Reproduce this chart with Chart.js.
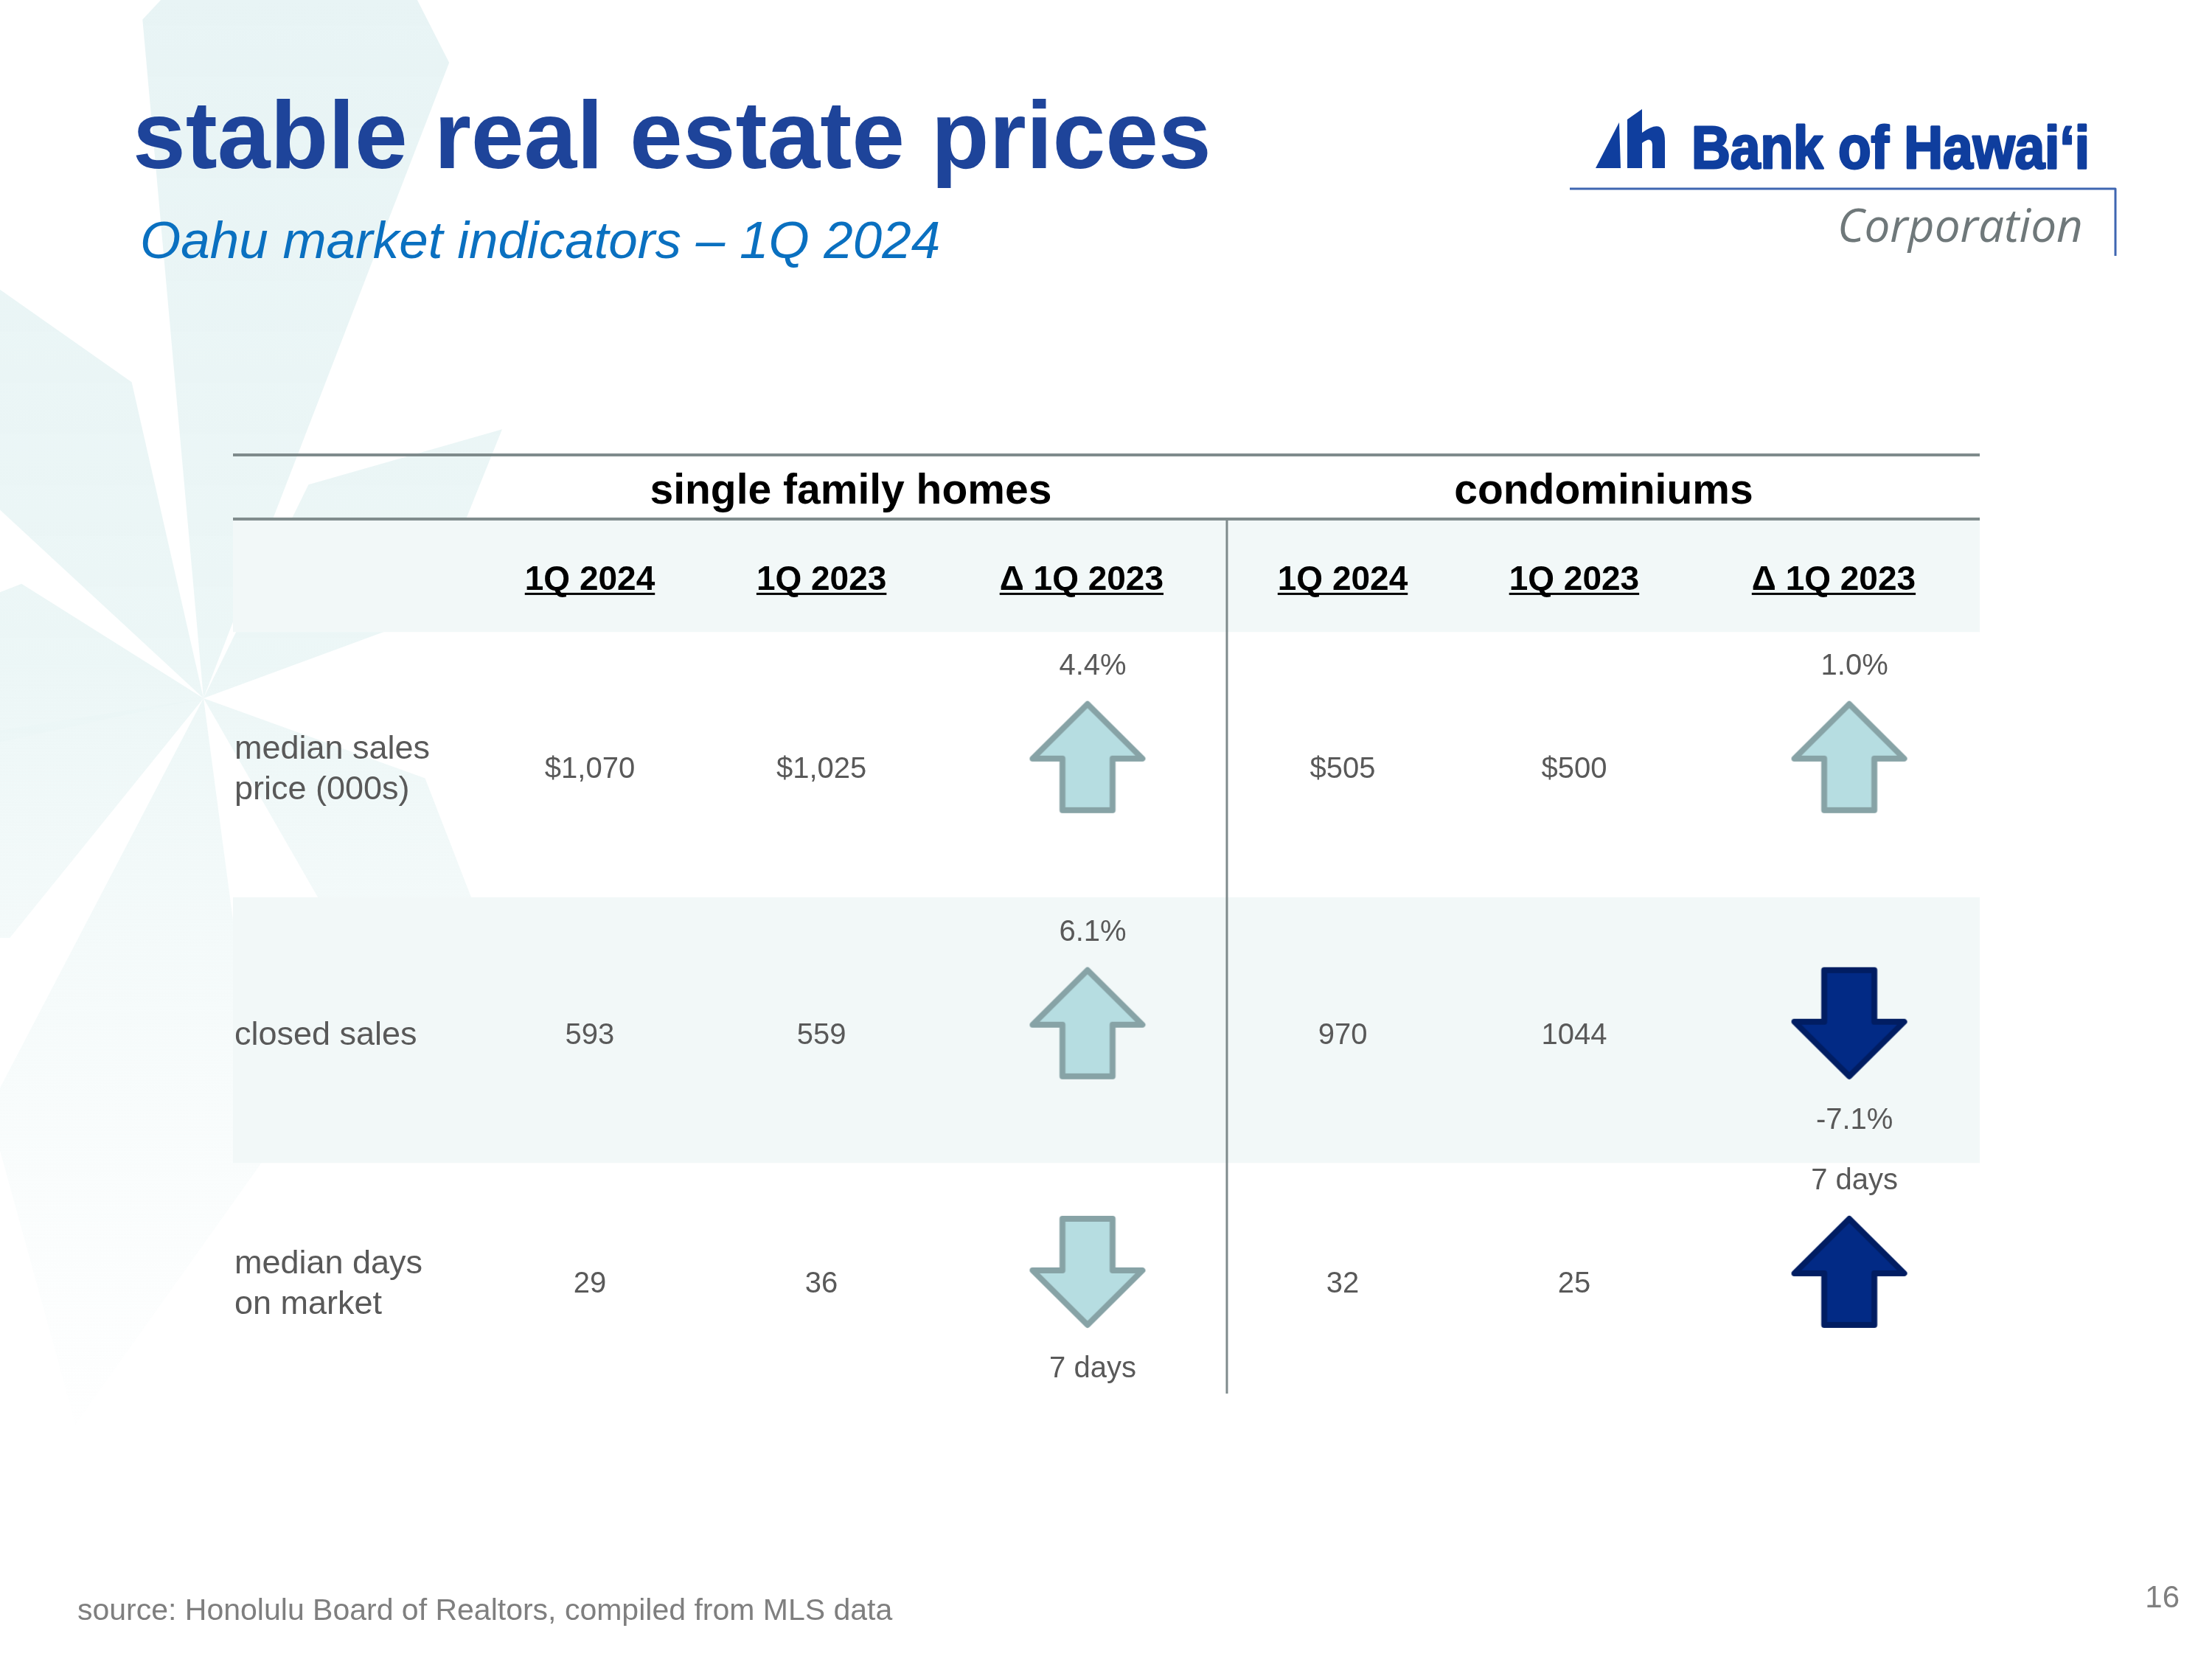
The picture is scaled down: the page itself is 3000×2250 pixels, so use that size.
<!DOCTYPE html>
<html lang="en">
  <head>
    <meta charset="utf-8" />
    <style>
      html, body { margin: 0; padding: 0; background: #ffffff; }
      .slide { width: 3000px; height: 2250px; position: relative; }
    </style>
  </head>
  <body>
    <div class="slide">
      <canvas id="myChart" width="3000" height="2250"></canvas>
    </div>

    <script src="https://cdn.jsdelivr.net/npm/chart.js@4.4.1/dist/chart.umd.min.js"></script>
    <script>
      // slide texts
      const titleText = "stable real estate prices";
      const subtitleText = "Oahu market indicators \u2013 1Q 2024";
      const sourceText = "source: Honolulu Board of Realtors, compiled from MLS data";
      const pageNumber = "16";

      // table data
      const segments = ["single family homes", "condominiums"];
      const periods = ["1Q 2024", "1Q 2023", "\u0394 1Q 2023"];
      const rowLabels = [["median sales", "price (000s)"], ["closed sales"], ["median days", "on market"]];
      const changeUnits = ["%", "%", "days"];
      const lowerIsBetter = [false, false, true];

      const sfh2024 = [1070, 593, 29];
      const sfh2023 = [1025, 559, 36];
      const sfhChange = [4.4, 6.1, -7];
      const condo2024 = [505, 970, 32];
      const condo2023 = [500, 1044, 25];
      const condoChange = [1.0, -7.1, 7];

      // layout (table units: x 0..100 across the table, y in row heights)
      const headerX = [20.43, 33.69, 48.58, 63.53, 76.78, 91.64];
      const valueX = [20.43, 33.69, 63.53, 76.78];
      const arrowX = [48.92, 92.53];
      const groupX = [35.37, 78.47];
      const rowY = [0, 1.034, 2.0];
      const dividerX = 56.9;
      const labelX = 0.08;
      const yTop = -1.209, yGroupRule = -0.96, yHeaderBottom = -0.521;
      const yBand2 = [0.51, 1.542], yDividerEnd = 2.438;
      const yGroupText = -1.065, yHeaderBase = -0.685;
      const arrowOffset = -0.035, upLabel = -0.40, downLabel = 0.33;
      const lineGap = 0.158, textNudge = 0.014;

      const textGray = "#595959";
      const font = '"Liberation Sans", Arial, sans-serif';

      function fmtValue(row, v) {
        return row === 0 ? "$" + v.toLocaleString("en-US") : String(v);
      }
      function fmtChange(row, v) {
        if (changeUnits[row] === "%") return v.toFixed(1) + "%";
        return Math.abs(v) + " days";
      }

      function makeArrow(up, good) {
        const c = document.createElement("canvas");
        c.width = 165;
        c.height = 160;
        const g = c.getContext("2d");
        const cx = 82.5;
        const pts = [
          [cx, 8], [cx + 74.5, 82], [cx + 34, 82], [cx + 34, 152],
          [cx - 34, 152], [cx - 34, 82], [cx - 74.5, 82],
        ];
        g.beginPath();
        pts.forEach((p, i) => {
          const y = up ? p[1] : 160 - p[1];
          if (i === 0) g.moveTo(p[0], y);
          else g.lineTo(p[0], y);
        });
        g.closePath();
        g.fillStyle = good ? "#b6dde1" : "#022a85";
        g.fill();
        g.lineJoin = "round";
        g.lineWidth = 8;
        g.strokeStyle = good ? "#87a3a6" : "#011d62";
        g.stroke();
        return c;
      }

      const changes = [sfhChange, condoChange];
      const arrowPoints = [];
      const arrowStyles = [];
      changes.forEach((series, s) => {
        series.forEach((v, r) => {
          const good = lowerIsBetter[r] ? v < 0 : v > 0;
          arrowPoints.push({ x: arrowX[s], y: rowY[r] + arrowOffset });
          arrowStyles.push(makeArrow(v > 0, good));
        });
      });

      function kite(ctx, cx, cy, ang, len, halfW, at) {
        const a = (ang * Math.PI) / 180;
        const ux = Math.cos(a), uy = Math.sin(a);
        const nx = -uy, ny = ux;
        const mx = cx + ux * len * at, my = cy + uy * len * at;
        ctx.beginPath();
        ctx.moveTo(cx, cy);
        ctx.lineTo(mx + nx * halfW, my + ny * halfW);
        ctx.lineTo(cx + ux * len, cy + uy * len);
        ctx.lineTo(mx - nx * halfW, my - ny * halfW);
        ctx.closePath();
        ctx.fill();
      }

      const slidePlugin = {
        id: "slide",
        beforeDraw(chart) {
          const ctx = chart.ctx;
          const xs = chart.scales.x, ys = chart.scales.y;
          ctx.save();
          // faint star in background
          const grad = ctx.createLinearGradient(0, 0, 0, 2000);
          grad.addColorStop(0, "rgba(232,244,245,1)");
          grad.addColorStop(0.45, "rgba(235,246,246,0.95)");
          grad.addColorStop(1, "rgba(242,249,249,0)");
          ctx.fillStyle = grad;
          kite(ctx, 276, 947, -82, 1200, 210, 0.75);
          kite(ctx, 276, 947, -42, 545, 120, 0.55);
          kite(ctx, 276, 947, -120, 700, 130, 0.6);
          kite(ctx, 276, 947, 190, 450, 110, 0.6);
          kite(ctx, 276, 947, 150, 650, 150, 0.6);
          kite(ctx, 276, 947, 100, 1000, 190, 0.6);
          kite(ctx, 276, 947, 40, 500, 110, 0.6);

          // title and subtitle
          ctx.textBaseline = "alphabetic";
          ctx.textAlign = "left";
          ctx.fillStyle = "#1e449a";
          ctx.font = "bold 129px " + font;
          ctx.fillText(titleText, 180, 228);
          ctx.fillStyle = "#0a70c0";
          ctx.font = "italic 71px " + font;
          ctx.fillText(subtitleText, 190, 350);

          // logo
          ctx.fillStyle = "#0f3e9e";
          ctx.beginPath();
          ctx.moveTo(2164, 228); ctx.lineTo(2196, 166); ctx.lineTo(2198, 228);
          ctx.closePath(); ctx.fill();
          ctx.beginPath();
          ctx.moveTo(2207, 162); ctx.lineTo(2227, 148); ctx.lineTo(2227, 228); ctx.lineTo(2207, 228);
          ctx.closePath(); ctx.fill();
          ctx.beginPath();
          ctx.moveTo(2227, 180);
          ctx.quadraticCurveTo(2258, 158, 2258, 192);
          ctx.lineTo(2258, 228); ctx.lineTo(2241, 228); ctx.lineTo(2241, 196);
          ctx.quadraticCurveTo(2240, 184, 2227, 194);
          ctx.closePath(); ctx.fill();
          ctx.font = "bold 81px " + font;
          ctx.strokeStyle = "#0f3e9e";
          ctx.lineWidth = 3;
          ctx.lineJoin = "round";
          ctx.strokeText("Bank of Hawai\u02BBi", 2294, 228, 540);
          ctx.fillText("Bank of Hawai\u02BBi", 2294, 228, 540);
          ctx.strokeStyle = "#3f66b1";
          ctx.lineWidth = 3;
          ctx.beginPath();
          ctx.moveTo(2129, 256); ctx.lineTo(2869, 256); ctx.lineTo(2869, 347);
          ctx.stroke();
          ctx.fillStyle = "#6f787a";
          ctx.font = 'italic 62px "Open Sans", ' + font;
          ctx.fillText("Corporation", 2492, 328, 340);

          // footer
          ctx.fillStyle = "#7f7f7f";
          ctx.font = "41px " + font;
          ctx.fillText(sourceText, 105, 2197);
          ctx.textAlign = "right";
          ctx.font = "42px " + font;
          ctx.fillText(pageNumber, 2956, 2180);

          // table bands and rules
          const L = xs.getPixelForValue(0), R = xs.getPixelForValue(100);
          ctx.fillStyle = "#f2f8f8";
          const hb0 = ys.getPixelForValue(yGroupRule), hb1 = ys.getPixelForValue(yHeaderBottom);
          ctx.fillRect(L, hb0, R - L, hb1 - hb0);
          const b0 = ys.getPixelForValue(yBand2[0]), b1 = ys.getPixelForValue(yBand2[1]);
          ctx.fillRect(L, b0, R - L, b1 - b0);
          ctx.fillStyle = "#7f8b8c";
          [yTop, yGroupRule].forEach((v) => {
            ctx.fillRect(L, ys.getPixelForValue(v) - 2, R - L, 4);
          });
          const dx = xs.getPixelForValue(dividerX);
          ctx.fillRect(dx - 1.5, hb0, 3, ys.getPixelForValue(yDividerEnd) - hb0);
          ctx.restore();
        },
        afterDatasetsDraw(chart) {
          const ctx = chart.ctx;
          const xs = chart.scales.x, ys = chart.scales.y;
          ctx.save();
          // group headers
          ctx.fillStyle = "#000000";
          ctx.textAlign = "center";
          ctx.textBaseline = "middle";
          ctx.font = "bold 57px " + font;
          segments.forEach((s, i) => {
            ctx.fillText(s, xs.getPixelForValue(groupX[i]), ys.getPixelForValue(yGroupText));
          });
          // period headers, underlined
          ctx.textBaseline = "alphabetic";
          ctx.font = "bold 46px " + font;
          const hy = ys.getPixelForValue(yHeaderBase);
          headerX.forEach((hx, i) => {
            const t = periods[i % 3];
            const px = xs.getPixelForValue(hx);
            const w = ctx.measureText(t).width;
            ctx.fillText(t, px, hy);
            ctx.fillRect(px - w / 2, hy + 4, w, 3);
          });
          // row labels
          ctx.fillStyle = textGray;
          ctx.textAlign = "left";
          ctx.textBaseline = "middle";
          ctx.font = "45px " + font;
          rowLabels.forEach((lines, r) => {
            lines.forEach((ln, k) => {
              const off = (k - (lines.length - 1) / 2) * lineGap + textNudge;
              ctx.fillText(ln, xs.getPixelForValue(labelX), ys.getPixelForValue(rowY[r] + off));
            });
          });
          // values
          ctx.textAlign = "center";
          ctx.font = "40px " + font;
          [sfh2024, sfh2023, condo2024, condo2023].forEach((series, c) => {
            series.forEach((v, r) => {
              ctx.fillText(fmtValue(r, v), xs.getPixelForValue(valueX[c]), ys.getPixelForValue(rowY[r] + textNudge));
            });
          });
          // change labels next to arrows
          changes.forEach((series, s) => {
            series.forEach((v, r) => {
              const y = rowY[r] + textNudge + (v > 0 ? upLabel : downLabel);
              ctx.fillText(fmtChange(r, v), xs.getPixelForValue(arrowX[s] + 0.3), ys.getPixelForValue(y));
            });
          });
          ctx.restore();
        },
      };

      const ctx = document.getElementById("myChart");
      const chart = new Chart(ctx, {
        type: "scatter",
        data: {
          datasets: [
            {
              label: "change vs 1Q 2023",
              data: arrowPoints,
              pointStyle: arrowStyles,
              pointRadius: 20,
              backgroundColor: "rgba(0,0,0,0)",
              borderColor: "rgba(0,0,0,0)",
            },
          ],
        },
        options: {
          responsive: false,
          devicePixelRatio: 1,
          animation: false,
          events: [],
          layout: {
            padding: { left: 316, right: 315, top: 617, bottom: 353 },
          },
          scales: {
            x: { type: "linear", min: 0, max: 100, display: false },
            y: { type: "linear", min: yTop, max: 2.458, reverse: true, display: false },
          },
          plugins: {
            legend: { display: false },
            tooltip: { enabled: false },
          },
        },
        plugins: [slidePlugin],
      });
    </script>
  </body>
</html>
